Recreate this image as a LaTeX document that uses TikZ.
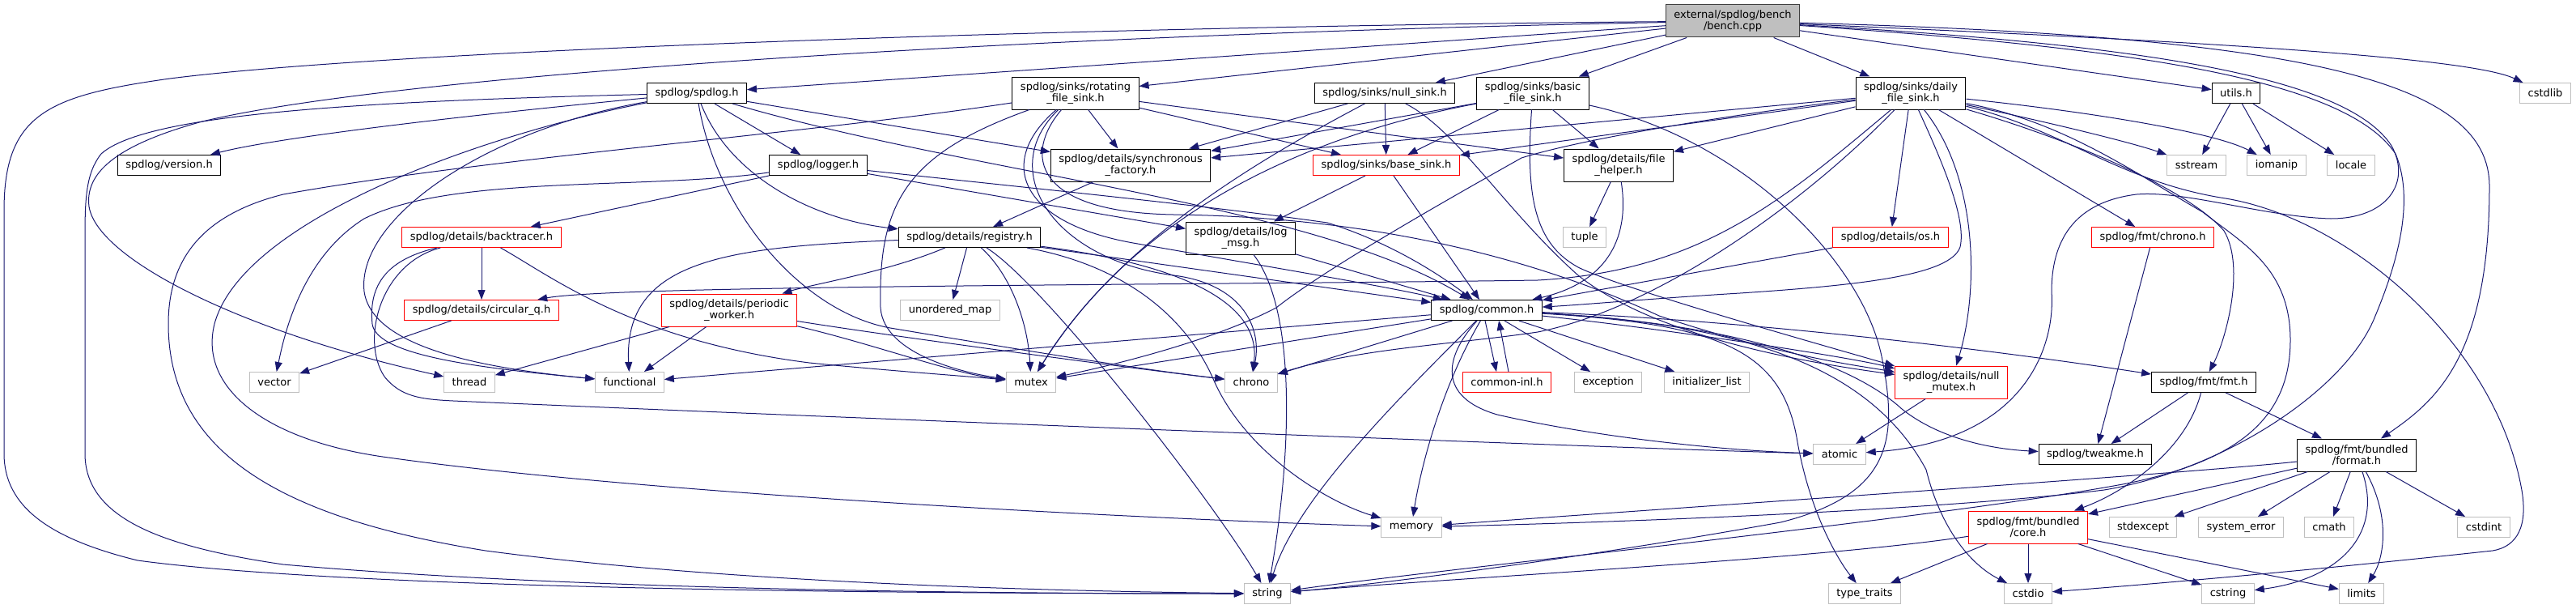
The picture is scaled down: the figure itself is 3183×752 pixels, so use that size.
\documentclass[tikz,border=0pt]{standalone}
\usepackage{fontspec}
\newfontfamily\dotfont{DejaVu Sans}
\usetikzlibrary{arrows.meta}
\definecolor{edgeblue}{HTML}{191970}
\definecolor{sysgray}{HTML}{BFBFBF}

\begin{document}
\begin{tikzpicture}[x=1pt, y=-1pt,
    file/.style={rectangle, draw=black, fill=white, line width=1pt, align=center, font=\dotfont\fontsize{13}{14.5}\selectfont, inner xsep=10pt, inner ysep=3pt, minimum height=25pt},
    sysfile/.style={file, draw=sysgray},
    cutfile/.style={file, draw=red},
    rootfile/.style={file, fill=sysgray, draw=black!75},
    twoline/.style={minimum height=40pt},
    dep/.style={-{Triangle[length=12pt, width=9pt]}, draw=edgeblue, line width=1pt}
]
\useasboundingbox (0,0) rectangle (3183,752);


\node[rootfile, twoline] (bench) at (2141,26) {external/spdlog/bench\\/bench.cpp};
\node[file] (spdlog_h) at (861,115) {spdlog/spdlog.h};
\node[file, twoline] (rotating_h) at (1329,115) {spdlog/sinks/rotating\\\_file\_sink.h};
\node[file] (null_sink_h) at (1711,115) {spdlog/sinks/null\_sink.h};
\node[file, twoline] (basic_h) at (1894,115) {spdlog/sinks/basic\\\_file\_sink.h};
\node[file, twoline] (daily_h) at (2361,115) {spdlog/sinks/daily\\\_file\_sink.h};
\node[file] (utils_h) at (2763,115) {utils.h};
\node[sysfile] (cstdlib) at (3145,115) {cstdlib};

\node[file] (version_h) at (209,204) {spdlog/version.h};
\node[file] (logger_h) at (1011,204) {spdlog/logger.h};
\node[file, twoline] (factory_h) at (1397,204) {spdlog/details/synchronous\\\_factory.h};
\node[cutfile] (base_sink_h) at (1713,204) {spdlog/sinks/base\_sink.h};
\node[file, twoline] (file_helper_h) at (2000,204) {spdlog/details/file\\\_helper.h};
\node[sysfile] (sstream) at (2714,204) {sstream};
\node[sysfile] (iomanip) at (2813,204) {iomanip};
\node[sysfile] (locale) at (2905,204) {locale};

\node[cutfile] (backtracer_h) at (595,293) {spdlog/details/backtracer.h};
\node[file] (registry_h) at (1198,293) {spdlog/details/registry.h};
\node[file, twoline] (log_msg_h) at (1533,294) {spdlog/details/log\\\_msg.h};
\node[sysfile] (tuple) at (1958,293) {tuple};
\node[cutfile] (os_h) at (2336,293) {spdlog/details/os.h};
\node[cutfile] (fmt_chrono_h) at (2660,293) {spdlog/fmt/chrono.h};

\node[cutfile] (circular_q_h) at (595,383) {spdlog/details/circular\_q.h};
\node[cutfile, twoline] (worker_h) at (901,383) {spdlog/details/periodic\\\_worker.h};
\node[sysfile] (unordered_map) at (1174,383) {unordered\_map};
\node[file] (common_h) at (1837,383) {spdlog/common.h};

\node[sysfile] (vector) at (339,472) {vector};
\node[sysfile] (thread) at (580,472) {thread};
\node[sysfile] (functional) at (778,472) {functional};
\node[sysfile] (mutex) at (1274,472) {mutex};
\node[sysfile] (chrono) at (1546,472) {chrono};
\node[cutfile] (common_inl_h) at (1862,472) {common-inl.h};
\node[sysfile] (exception) at (1987,472) {exception};
\node[sysfile] (initializer_list) at (2109,472) {initializer\_list};
\node[cutfile, twoline] (null_mutex_h) at (2411,472) {spdlog/details/null\\\_mutex.h};
\node[file] (fmt_h) at (2723,472) {spdlog/fmt/fmt.h};

\node[sysfile] (atomic) at (2273,561) {atomic};
\node[file] (tweakme_h) at (2589,561) {spdlog/tweakme.h};
\node[file, twoline] (format_h) at (2912,562) {spdlog/fmt/bundled\\/format.h};

\node[sysfile] (memory) at (1744,651) {memory};
\node[cutfile, twoline] (core_h) at (2506,651) {spdlog/fmt/bundled\\/core.h};
\node[sysfile] (stdexcept) at (2648,651) {stdexcept};
\node[sysfile] (system_error) at (2769,651) {system\_error};
\node[sysfile] (cmath) at (2878,651) {cmath};
\node[sysfile] (cstdint) at (3069,651) {cstdint};

\node[sysfile] (string) at (1566,733) {string};
\node[sysfile] (type_traits) at (2304,733) {type\_traits};
\node[sysfile] (cstdio) at (2506,733) {cstdio};
\node[sysfile] (cstring) at (2753,733) {cstring};
\node[sysfile] (limits) at (2918,733) {limits};


\draw[dep] (bench) -- (spdlog_h);
\draw[dep] (bench) -- (rotating_h);
\draw[dep] (bench) -- (null_sink_h);
\draw[dep] (bench) -- (basic_h);
\draw[dep] (bench) -- (daily_h);
\draw[dep] (bench) -- (utils_h);
\draw[dep] (bench) .. controls (2700,50) and (3050,70) .. (cstdlib);
\draw[dep] (bench) .. controls (2850,45) and (3076,100) .. (3076,230) .. controls (3076,440) and (3010,495) .. (format_h);
\draw[dep] (bench) .. controls (1400,32) and (500,60) .. (210,97) .. controls (60,118) and (5,140) .. (5,260) -- (5,560) .. controls (5,625) and (60,665) .. (170,692) .. controls (450,730) and (1200,733) .. (string);
\draw[dep] (bench) .. controls (1300,42) and (500,90) .. (250,150) .. controls (140,180) and (105,215) .. (110,255) .. controls (120,320) and (300,410) .. (thread);
\draw[dep] (bench) .. controls (2650,55) and (2900,95) .. (2955,180) .. controls (2980,225) and (2950,270) .. (2880,270) .. controls (2800,268) and (2700,235) .. (2640,240) .. controls (2560,250) and (2535,300) .. (2535,360) .. controls (2540,430) and (2500,545) .. (atomic);
\draw[dep] (bench) .. controls (2650,60) and (2900,100) .. (2960,190) .. controls (2985,250) and (2960,330) .. (2935,390) .. controls (2900,480) and (2750,580) .. (2600,605) .. controls (2400,630) and (2000,645) .. (memory);


\draw[dep] (spdlog_h) .. controls (600,140) and (350,168) .. (version_h);
\draw[dep] (spdlog_h) -- (logger_h);
\draw[dep] (spdlog_h) -- (factory_h);
\draw[dep] (spdlog_h) .. controls (1200,215) and (1620,250) .. (common_h);
\draw[dep] (spdlog_h) .. controls (900,215) and (1000,270) .. (registry_h);
\draw[dep] (spdlog_h) .. controls (885,260) and (990,385) .. (1100,405) .. controls (1250,430) and (1400,455) .. (chrono);
\draw[dep] (spdlog_h) .. controls (600,160) and (440,270) .. (450,360) .. controls (460,430) and (600,455) .. (functional);
\draw[dep] (spdlog_h) .. controls (600,165) and (300,270) .. (265,400) .. controls (245,480) and (330,545) .. (480,565) .. controls (800,610) and (1400,640) .. (memory);
\draw[dep] (spdlog_h) .. controls (450,125) and (180,140) .. (125,190) .. controls (105,215) and (105,250) .. (105,300) -- (105,560) .. controls (105,640) and (200,675) .. (350,697) .. controls (700,728) and (1200,733) .. (string);


\draw[dep] (rotating_h) -- (factory_h);
\draw[dep] (rotating_h) -- (base_sink_h);
\draw[dep] (rotating_h) -- (file_helper_h);
\draw[dep] (rotating_h) .. controls (1120,190) and (1085,250) .. (1088,380) .. controls (1092,440) and (1200,462) .. (mutex);
\draw[dep] (rotating_h) .. controls (1230,200) and (1260,275) .. (1400,300) .. controls (1600,335) and (1720,355) .. (common_h);
\draw[dep] (rotating_h) .. controls (1265,190) and (1275,262) .. (1450,265) .. controls (1700,268) and (1900,320) .. (2050,390) .. controls (2200,440) and (2300,452) .. (null_mutex_h);
\draw[dep] (rotating_h) .. controls (1230,210) and (1300,320) .. (1450,340) .. controls (1530,350) and (1560,400) .. (chrono);
\draw[dep] (rotating_h) .. controls (1000,165) and (600,195) .. (350,240) .. controls (250,265) and (208,320) .. (208,400) .. controls (208,560) and (350,640) .. (600,680) .. controls (900,720) and (1300,730) .. (string);


\draw[dep] (null_sink_h) -- (base_sink_h);
\draw[dep] (null_sink_h) -- (factory_h);
\draw[dep] (null_sink_h) .. controls (1800,160) and (1860,260) .. (1950,340) .. controls (2050,420) and (2250,450) .. (null_mutex_h);
\draw[dep] (null_sink_h) .. controls (1550,200) and (1380,300) .. (mutex);


\draw[dep] (basic_h) -- (factory_h);
\draw[dep] (basic_h) -- (base_sink_h);
\draw[dep] (basic_h) -- (file_helper_h);
\draw[dep] (basic_h) .. controls (1600,170) and (1400,270) .. (mutex);
\draw[dep] (basic_h) .. controls (1885,240) and (1895,300) .. (1950,330) .. controls (2000,355) and (2230,420) .. (null_mutex_h);
\draw[dep] (basic_h) .. controls (2150,170) and (2300,320) .. (2325,440) .. controls (2345,540) and (2340,610) .. (2200,645) .. controls (1950,690) and (1700,722) .. (string);


\draw[dep] (daily_h) -- (os_h);
\draw[dep] (daily_h) -- (fmt_chrono_h);
\draw[dep] (daily_h) -- (file_helper_h);
\draw[dep] (daily_h) -- (factory_h);
\draw[dep] (daily_h) -- (base_sink_h);
\draw[dep] (daily_h) .. controls (2550,155) and (2640,178) .. (sstream);
\draw[dep] (daily_h) .. controls (2600,140) and (2740,165) .. (iomanip);
\draw[dep] (daily_h) .. controls (2200,250) and (2100,335) .. (1900,346) .. controls (1500,352) and (760,352) .. (circular_q_h);
\draw[dep] (daily_h) .. controls (2230,250) and (2050,380) .. (1900,410) .. controls (1800,425) and (1680,430) .. (chrono);
\draw[dep] (daily_h) .. controls (2150,140) and (1960,170) .. (1880,195) .. controls (1800,240) and (1640,330) .. (1577,380) .. controls (1500,420) and (1380,450) .. (mutex);
\draw[dep] (daily_h) .. controls (2400,200) and (2430,270) .. (2422,305) .. controls (2410,340) and (2300,352) .. (2150,362) .. controls (2050,368) and (1960,376) .. (common_h);
\draw[dep] (daily_h) .. controls (2445,220) and (2445,360) .. (null_mutex_h);
\draw[dep] (daily_h) .. controls (2550,170) and (2700,230) .. (2748,285) .. controls (2775,330) and (2750,420) .. (fmt_h);
\draw[dep] (daily_h) .. controls (2550,160) and (2620,225) .. (2750,245) .. controls (2900,270) and (3080,420) .. (3115,600) .. controls (3125,650) and (3110,675) .. (3080,680) .. controls (2850,705) and (2650,722) .. (cstdio);
\draw[dep] (daily_h) .. controls (2550,150) and (2640,215) .. (2722,262) .. controls (2770,300) and (2830,330) .. (2830,420) .. controls (2830,520) and (2760,570) .. (2628,597) .. controls (2400,640) and (1800,700) .. (string);


\draw[dep] (utils_h) -- (sstream);
\draw[dep] (utils_h) -- (iomanip);
\draw[dep] (utils_h) -- (locale);


\draw[dep] (logger_h) -- (backtracer_h);
\draw[dep] (logger_h) -- (log_msg_h);
\draw[dep] (logger_h) .. controls (800,235) and (560,215) .. (450,270) .. controls (370,320) and (350,420) .. (vector);
\draw[dep] (logger_h) .. controls (1300,235) and (1500,255) .. (1640,275) .. controls (1720,300) and (1780,340) .. (common_h);


\draw[dep] (factory_h) -- (registry_h);
\draw[dep] (base_sink_h) -- (log_msg_h);
\draw[dep] (base_sink_h) -- (common_h);
\draw[dep] (file_helper_h) -- (tuple);
\draw[dep] (file_helper_h) .. controls (2015,300) and (1980,350) .. (common_h);


\draw[dep] (backtracer_h) -- (circular_q_h);
\draw[dep] (backtracer_h) .. controls (480,320) and (455,350) .. (460,400) .. controls (465,440) and (600,455) .. (functional);
\draw[dep] (backtracer_h) .. controls (470,325) and (445,420) .. (475,465) .. controls (495,490) and (520,493) .. (560,495) .. controls (900,510) and (1900,550) .. (atomic);
\draw[dep] (backtracer_h) .. controls (680,340) and (780,420) .. (1000,448) .. controls (1100,458) and (1200,465) .. (mutex);
\draw[dep] (circular_q_h) -- (vector);


\draw[dep] (registry_h) -- (unordered_map);
\draw[dep] (registry_h) -- (common_h);
\draw[dep] (registry_h) .. controls (1100,335) and (1000,352) .. (worker_h);
\draw[dep] (registry_h) .. controls (900,305) and (770,320) .. (functional);
\draw[dep] (registry_h) .. controls (1250,340) and (1270,400) .. (mutex);
\draw[dep] (registry_h) .. controls (1290,350) and (1500,620) .. (string);
\draw[dep] (registry_h) .. controls (1400,330) and (1470,400) .. (1500,470) .. controls (1540,560) and (1640,620) .. (memory);
\draw[dep] (registry_h) .. controls (1450,325) and (1560,370) .. (chrono);


\draw[dep] (log_msg_h) -- (common_h);
\draw[dep] (log_msg_h) .. controls (1600,380) and (1598,550) .. (string);


\draw[dep] (worker_h) -- (thread);
\draw[dep] (worker_h) -- (functional);
\draw[dep] (worker_h) .. controls (1100,415) and (1400,455) .. (chrono);
\draw[dep] (worker_h) .. controls (1080,425) and (1180,462) .. (mutex);


\draw[dep] ([xshift=-2pt]common_h.south) -- ([xshift=-13pt]common_inl_h.north);
\draw[dep] ([xshift=2pt]common_inl_h.north) -- ([xshift=15pt]common_h.south);
\draw[dep] (common_h) -- (exception);
\draw[dep] (common_h) -- (initializer_list);
\draw[dep] (common_h) -- (chrono);
\draw[dep] (common_h) -- (mutex);
\draw[dep] (common_h) -- (functional);
\draw[dep] (common_h) .. controls (1780,480) and (1755,580) .. (memory);
\draw[dep] (common_h) .. controls (1720,500) and (1600,620) .. (string);
\draw[dep] (common_h) .. controls (1785,440) and (1775,490) .. (1850,512) .. controls (1950,535) and (2100,555) .. (atomic);
\draw[dep] (common_h) .. controls (2050,405) and (2280,440) .. (null_mutex_h);
\draw[dep] (common_h) .. controls (2150,395) and (2450,430) .. (fmt_h);
\draw[dep] (common_h) .. controls (2150,400) and (2290,450) .. (2350,505) .. controls (2400,545) and (2470,555) .. (tweakme_h);
\draw[dep] (common_h) .. controls (2120,400) and (2200,430) .. (2220,540) .. controls (2235,630) and (2270,690) .. (type_traits);
\draw[dep] (common_h) .. controls (2150,400) and (2310,450) .. (2380,580) .. controls (2400,660) and (2440,700) .. (cstdio);


\draw[dep] (os_h) -- (common_h);
\draw[dep] (fmt_chrono_h) -- (tweakme_h);
\draw[dep] (null_mutex_h) -- (atomic);
\draw[dep] (fmt_h) -- (tweakme_h);
\draw[dep] (fmt_h) -- (format_h);
\draw[dep] (fmt_h) .. controls (2700,560) and (2620,610) .. (core_h);


\draw[dep] (format_h) -- (core_h);
\draw[dep] (format_h) -- (stdexcept);
\draw[dep] (format_h) -- (system_error);
\draw[dep] (format_h) -- (cmath);
\draw[dep] (format_h) -- (cstdint);
\draw[dep] (format_h) .. controls (2945,660) and (2890,715) .. (cstring);
\draw[dep] (format_h) .. controls (2955,640) and (2945,690) .. (limits);
\draw[dep] (format_h) .. controls (2700,585) and (2100,625) .. (memory);


\draw[dep] (core_h) -- (type_traits);
\draw[dep] (core_h) -- (cstdio);
\draw[dep] (core_h) -- (cstring);
\draw[dep] (core_h) -- (limits);
\draw[dep] (core_h) .. controls (2250,690) and (1850,710) .. (string);

\end{tikzpicture}
\end{document}
